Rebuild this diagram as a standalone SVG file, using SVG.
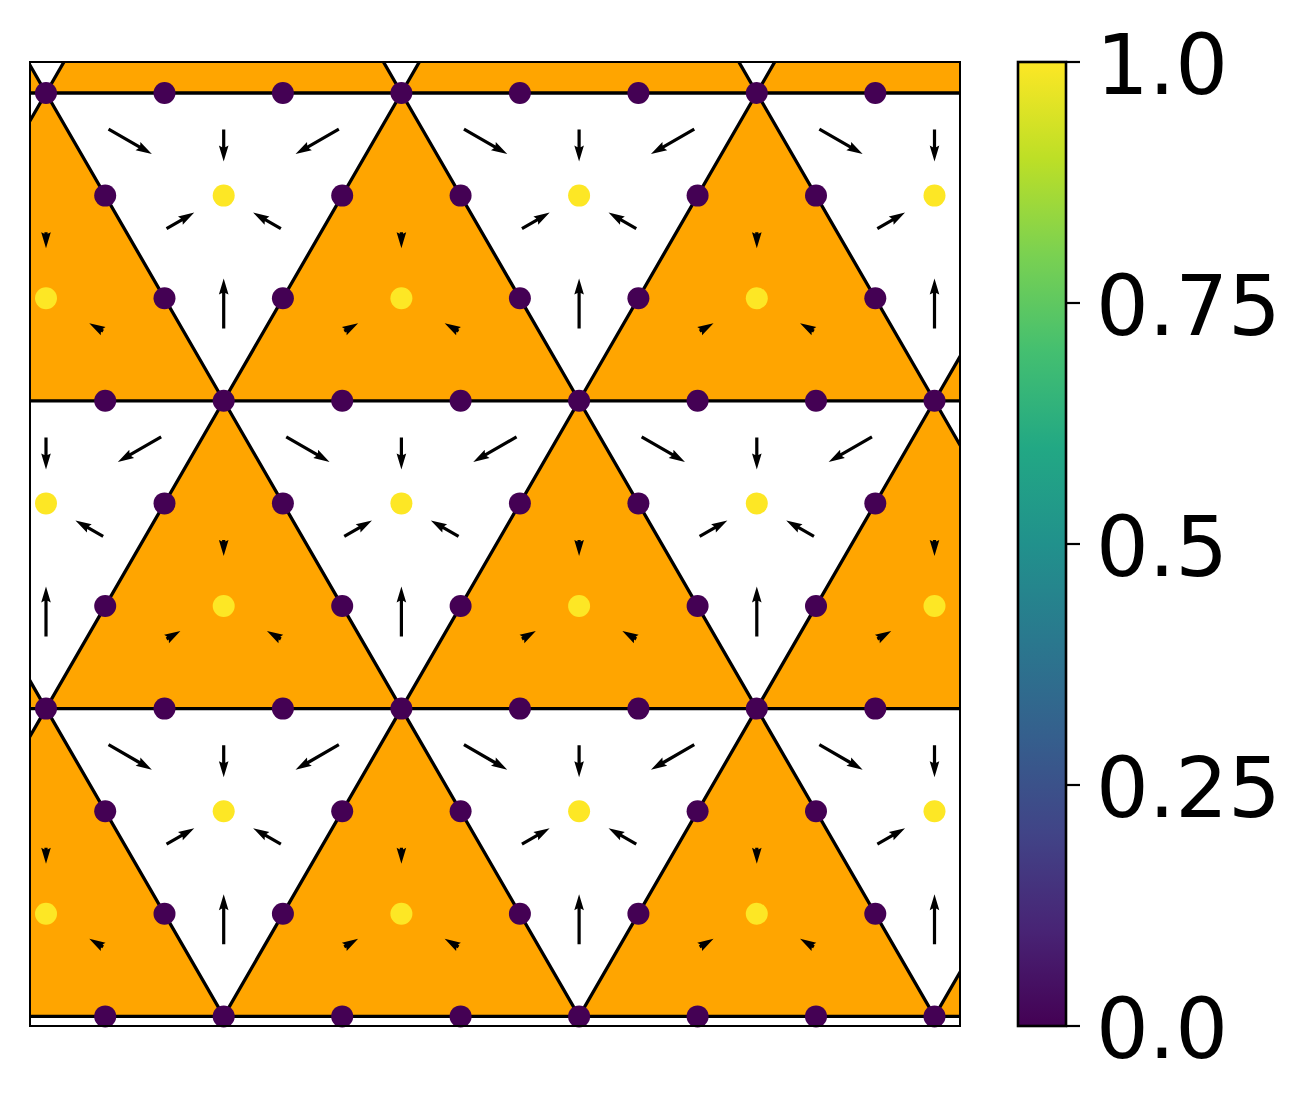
<svg xmlns="http://www.w3.org/2000/svg" width="1311" height="1107" viewBox="0 0 1311 1107">
<style>
.tri{fill:#ffa500;stroke:#000;stroke-width:3.3;stroke-linejoin:miter}
.p{fill:#440154}
.y{fill:#fde725}
.arr{fill:#000}
.lbl{font-family:"DejaVu Sans","Liberation Sans",sans-serif;font-size:83px;fill:#000}
.tick{stroke:#000;stroke-width:2.2}
</style>
<defs>
<clipPath id="ax"><rect x="30" y="62" width="930" height="964"/></clipPath>
<linearGradient id="vir" x1="0" y1="1" x2="0" y2="0">
<stop offset="0" stop-color="#440154"/>
<stop offset="0.1" stop-color="#482475"/>
<stop offset="0.2" stop-color="#414487"/>
<stop offset="0.3" stop-color="#355f8d"/>
<stop offset="0.4" stop-color="#2a788e"/>
<stop offset="0.5" stop-color="#21918c"/>
<stop offset="0.6" stop-color="#22a884"/>
<stop offset="0.7" stop-color="#44bf70"/>
<stop offset="0.8" stop-color="#7ad151"/>
<stop offset="0.9" stop-color="#bddf26"/>
<stop offset="1" stop-color="#fde725"/>
</linearGradient>
<path id="af" class="arr" d="M-25,-1.6 L10.6,-1.6 L9,-4.8 L25,0 L9,4.8 L10.6,1.6 L-25,1.6 Z"/>
<path id="an" class="arr" d="M-16,-1.6 L1.6,-1.6 L0,-4.8 L16,0 L0,4.8 L1.6,1.6 L-16,1.6 Z"/>
<path id="as" class="arr" d="M-8,-1.6 L-6.4,-1.6 L-8,-4.8 L8,0 L-8,4.8 L-6.4,1.6 L-8,1.6 Z"/>
<g id="wa">
<use href="#af" transform="translate(-93.5,-54) rotate(30)"/>
<use href="#af" transform="translate(93.5,-54) rotate(150)"/>
<use href="#af" transform="translate(0,108) rotate(-90)"/>
<use href="#an" transform="translate(0,-50) rotate(90)"/>
<use href="#an" transform="translate(-43.3,25) rotate(-30)"/>
<use href="#an" transform="translate(43.3,25) rotate(-150)"/>
</g>
<g id="oa">
<use href="#as" transform="translate(0,-58) rotate(90)"/>
<use href="#as" transform="translate(-50.2,29) rotate(-30)"/>
<use href="#as" transform="translate(50.2,29) rotate(-150)"/>
</g>
</defs>
<rect width="1311" height="1107" fill="#fff"/>
<g id="lattice" clip-path="url(#ax)">
<g id="triangles">
<polygon class="tri" points="-131.7,-214.8 46,93 -309.4,93"/>
<polygon class="tri" points="223.7,-214.8 401.4,93 46,93"/>
<polygon class="tri" points="579.1,-214.8 756.8,93 401.4,93"/>
<polygon class="tri" points="934.5,-214.8 1112.2,93 756.8,93"/>
<polygon class="tri" points="46,93 223.7,400.8 -131.7,400.8"/>
<polygon class="tri" points="401.4,93 579.1,400.8 223.7,400.8"/>
<polygon class="tri" points="756.8,93 934.5,400.8 579.1,400.8"/>
<polygon class="tri" points="1112.2,93 1289.9,400.8 934.5,400.8"/>
<polygon class="tri" points="-131.7,400.8 46,708.6 -309.4,708.6"/>
<polygon class="tri" points="223.7,400.8 401.4,708.6 46,708.6"/>
<polygon class="tri" points="579.1,400.8 756.8,708.6 401.4,708.6"/>
<polygon class="tri" points="934.5,400.8 1112.2,708.6 756.8,708.6"/>
<polygon class="tri" points="46,708.6 223.7,1016.4 -131.7,1016.4"/>
<polygon class="tri" points="401.4,708.6 579.1,1016.4 223.7,1016.4"/>
<polygon class="tri" points="756.8,708.6 934.5,1016.4 579.1,1016.4"/>
<polygon class="tri" points="1112.2,708.6 1289.9,1016.4 934.5,1016.4"/>
</g>
<g id="arrows">
<use href="#wa" x="223.7" y="195.6"/>
<use href="#wa" x="579.1" y="195.6"/>
<use href="#wa" x="934.5" y="195.6"/>
<use href="#wa" x="46" y="503.4"/>
<use href="#wa" x="401.4" y="503.4"/>
<use href="#wa" x="756.8" y="503.4"/>
<use href="#wa" x="223.7" y="811.2"/>
<use href="#wa" x="579.1" y="811.2"/>
<use href="#wa" x="934.5" y="811.2"/>
<use href="#oa" x="46" y="298.2"/>
<use href="#oa" x="401.4" y="298.2"/>
<use href="#oa" x="756.8" y="298.2"/>
<use href="#oa" x="223.7" y="606"/>
<use href="#oa" x="579.1" y="606"/>
<use href="#oa" x="934.5" y="606"/>
<use href="#oa" x="46" y="913.8"/>
<use href="#oa" x="401.4" y="913.8"/>
<use href="#oa" x="756.8" y="913.8"/>
</g>
</g>
<g id="dots">
<g transform="translate(0,93)"><circle class="p" cx="46" r="11"/><circle class="p" cx="164.5" r="11"/><circle class="p" cx="282.9" r="11"/><circle class="p" cx="401.4" r="11"/><circle class="p" cx="519.9" r="11"/><circle class="p" cx="638.4" r="11"/><circle class="p" cx="756.8" r="11"/><circle class="p" cx="875.3" r="11"/></g>
<g transform="translate(0,195.6)"><circle class="p" cx="105.2" r="11"/><circle class="y" cx="223.7" r="11"/><circle class="p" cx="342.2" r="11"/><circle class="p" cx="460.6" r="11"/><circle class="y" cx="579.1" r="11"/><circle class="p" cx="697.6" r="11"/><circle class="p" cx="816" r="11"/><circle class="y" cx="934.5" r="11"/></g>
<g transform="translate(0,298.2)"><circle class="y" cx="46" r="11"/><circle class="p" cx="164.5" r="11"/><circle class="p" cx="282.9" r="11"/><circle class="y" cx="401.4" r="11"/><circle class="p" cx="519.9" r="11"/><circle class="p" cx="638.4" r="11"/><circle class="y" cx="756.8" r="11"/><circle class="p" cx="875.3" r="11"/></g>
<g transform="translate(0,400.8)"><circle class="p" cx="105.2" r="11"/><circle class="p" cx="223.7" r="11"/><circle class="p" cx="342.2" r="11"/><circle class="p" cx="460.6" r="11"/><circle class="p" cx="579.1" r="11"/><circle class="p" cx="697.6" r="11"/><circle class="p" cx="816" r="11"/><circle class="p" cx="934.5" r="11"/></g>
<g transform="translate(0,503.4)"><circle class="y" cx="46" r="11"/><circle class="p" cx="164.5" r="11"/><circle class="p" cx="282.9" r="11"/><circle class="y" cx="401.4" r="11"/><circle class="p" cx="519.9" r="11"/><circle class="p" cx="638.4" r="11"/><circle class="y" cx="756.8" r="11"/><circle class="p" cx="875.3" r="11"/></g>
<g transform="translate(0,606)"><circle class="p" cx="105.2" r="11"/><circle class="y" cx="223.7" r="11"/><circle class="p" cx="342.2" r="11"/><circle class="p" cx="460.6" r="11"/><circle class="y" cx="579.1" r="11"/><circle class="p" cx="697.6" r="11"/><circle class="p" cx="816" r="11"/><circle class="y" cx="934.5" r="11"/></g>
<g transform="translate(0,708.6)"><circle class="p" cx="46" r="11"/><circle class="p" cx="164.5" r="11"/><circle class="p" cx="282.9" r="11"/><circle class="p" cx="401.4" r="11"/><circle class="p" cx="519.9" r="11"/><circle class="p" cx="638.4" r="11"/><circle class="p" cx="756.8" r="11"/><circle class="p" cx="875.3" r="11"/></g>
<g transform="translate(0,811.2)"><circle class="p" cx="105.2" r="11"/><circle class="y" cx="223.7" r="11"/><circle class="p" cx="342.2" r="11"/><circle class="p" cx="460.6" r="11"/><circle class="y" cx="579.1" r="11"/><circle class="p" cx="697.6" r="11"/><circle class="p" cx="816" r="11"/><circle class="y" cx="934.5" r="11"/></g>
<g transform="translate(0,913.8)"><circle class="y" cx="46" r="11"/><circle class="p" cx="164.5" r="11"/><circle class="p" cx="282.9" r="11"/><circle class="y" cx="401.4" r="11"/><circle class="p" cx="519.9" r="11"/><circle class="p" cx="638.4" r="11"/><circle class="y" cx="756.8" r="11"/><circle class="p" cx="875.3" r="11"/></g>
<g transform="translate(0,1016.4)"><circle class="p" cx="105.2" r="11"/><circle class="p" cx="223.7" r="11"/><circle class="p" cx="342.2" r="11"/><circle class="p" cx="460.6" r="11"/><circle class="p" cx="579.1" r="11"/><circle class="p" cx="697.6" r="11"/><circle class="p" cx="816" r="11"/><circle class="p" cx="934.5" r="11"/></g>
</g>
<rect id="frame" x="30" y="62" width="930" height="964" fill="none" stroke="#000" stroke-width="2"/>
<g id="colorbar">
<rect x="1018" y="62" width="48" height="964" fill="url(#vir)" stroke="#000" stroke-width="2.6"/>
<line class="tick" x1="1066" y1="62" x2="1080" y2="62"/>
<line class="tick" x1="1066" y1="303" x2="1080" y2="303"/>
<line class="tick" x1="1066" y1="544" x2="1080" y2="544"/>
<line class="tick" x1="1066" y1="785" x2="1080" y2="785"/>
<line class="tick" x1="1066" y1="1026" x2="1080" y2="1026"/>
<text class="lbl" x="1096" y="94">1.0</text>
<text class="lbl" x="1096" y="335">0.75</text>
<text class="lbl" x="1096" y="576">0.5</text>
<text class="lbl" x="1096" y="817">0.25</text>
<text class="lbl" x="1096" y="1058">0.0</text>
</g>
</svg>
